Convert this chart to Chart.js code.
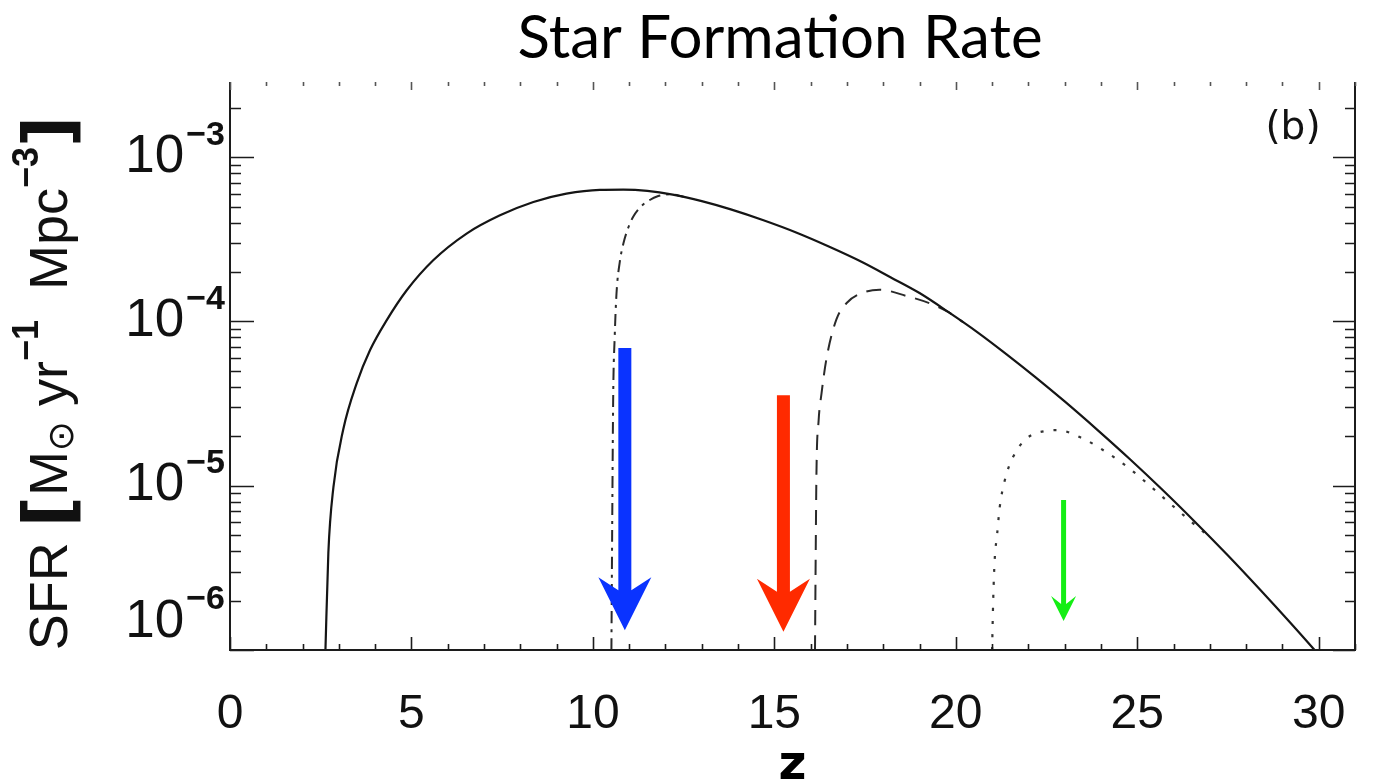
<!DOCTYPE html>
<html>
<head>
<meta charset="utf-8">
<script src="https://cdn.jsdelivr.net/npm/chart.js@4.4.1/dist/chart.umd.min.js"></script>
<style>
  html, body { margin: 0; padding: 0; background: #fff; }
</style>
</head>
<body>
<canvas id="sfrChart" width="1375" height="781"></canvas>
<script>
// SFR history (M_sun / yr / Mpc^3) against redshift, one total curve and three cut-off models
const solidZ   = [2.63, 2.71, 2.85, 3.12, 3.49, 3.86, 4.32, 4.87, 5.6, 6.52, 7.44, 8.36, 9.27, 10.19, 10.84, 11.5, 12.2, 13.0, 13.8, 14.7, 15.6, 16.5, 17.4, 18.2, 19.0, 19.8, 20.6, 21.4, 22.2, 23.0, 23.9, 24.8, 25.7, 26.6, 27.5, 28.4, 29.2, 29.85, 30.3];
const solidSFR = [1.0e-6, 3.9e-6, 9.8e-6, 2.2e-5, 4.2e-5, 6.7e-5, 1.02e-4, 1.55e-4, 2.36e-4, 3.43e-4, 4.43e-4, 5.34e-4, 6.0e-4, 6.33e-4, 6.35e-4, 6.24e-4, 5.92e-4, 5.4e-4, 4.81e-4, 4.13e-4, 3.48e-4, 2.86e-4, 2.31e-4, 1.86e-4, 1.49e-4, 1.14e-4, 8.59e-5, 6.31e-5, 4.57e-5, 3.26e-5, 2.19e-5, 1.45e-5, 9.42e-6, 6.0e-6, 3.76e-6, 2.31e-6, 1.48e-6, 1.02e-6, 7.8e-7];

const dashDotZ   = [10.51, 10.53, 10.56, 10.60, 10.65, 10.74, 10.84, 10.97, 11.11, 11.3, 11.48, 11.8, 12.12, 12.5];
const dashDotSFR = [1.0e-6, 5.0e-6, 3.6e-5, 8.0e-5, 1.48e-4, 2.3e-4, 2.98e-4, 3.7e-4, 4.34e-4, 4.95e-4, 5.34e-4, 5.8e-4, 5.95e-4, 5.75e-4];

const dashedZ   = [16.12, 16.14, 16.16, 16.22, 16.3, 16.44, 16.71, 17.0, 17.45, 17.9, 18.64, 19.28, 19.8, 20.2];
const dashedSFR = [1.0e-6, 4.0e-6, 1.2e-5, 2.5e-5, 3.65e-5, 6.0e-5, 1.03e-4, 1.3e-4, 1.5e-4, 1.56e-4, 1.43e-4, 1.29e-4, 1.14e-4, 9.9e-5];

const dottedZ   = [21.0, 21.03, 21.07, 21.14, 21.21, 21.35, 21.58, 21.95, 22.5, 22.8, 23.5, 24.15, 24.79, 25.44, 25.99, 26.54, 27.0];
const dottedSFR = [1.0e-6, 2.0e-6, 3.5e-6, 5.1e-6, 7.4e-6, 1.08e-5, 1.5e-5, 1.94e-5, 2.16e-5, 2.18e-5, 1.94e-5, 1.6e-5, 1.27e-5, 9.6e-6, 7.5e-6, 5.9e-6, 4.86e-6];

// arrows: redshift, tail value, tip value
const arrowZ    = [10.88, 15.25, 22.97];
const arrowTail = [6.9e-5, 3.56e-5, 8.2e-6];
const arrowTip  = [1.32e-6, 1.29e-6, 1.5e-6];

const xTickLabels = [0, 5, 10, 15, 20, 25, 30];
const yTickExponents = [-3, -4, -5, -6];

const arrowStyle = [
  { color: '#0a33ff', shaft: 13, head: 53, len: 53, notch: 13 },
  { color: '#ff2a00', shaft: 13, head: 53, len: 53, notch: 13 },
  { color: '#14ee14', shaft: 5, head: 25, len: 25, notch: 8 }
];

const toPoints = (zs, vals) => zs.map((z, i) => ({ x: z, y: vals[i] }));

const ink = '#1c1c1c';
const numFont = 'Liberation Sans';

// frame with inward ticks, no top border
const axesFrame = {
  id: 'axesFrame',
  afterDraw(chart) {
    const { ctx, chartArea: a, scales: { x, y } } = chart;
    ctx.save();
    ctx.strokeStyle = ink;
    ctx.lineWidth = 2;
    ctx.beginPath();
    ctx.moveTo(a.left, a.top);
    ctx.lineTo(a.left, a.bottom);
    ctx.lineTo(a.right, a.bottom);
    ctx.lineTo(a.right, a.top);
    ctx.stroke();

    ctx.lineWidth = 1.6;
    for (let z = 0; z <= 31; z++) {
      const px = Math.round(x.getPixelForValue(z)) + 0.5;
      const major = z % 5 === 0;
      ctx.strokeStyle = ink;
      ctx.beginPath();
      ctx.moveTo(px, a.bottom);
      ctx.lineTo(px, a.bottom - (major ? 13 : 6));
      ctx.stroke();
      ctx.strokeStyle = '#555';
      ctx.beginPath();
      ctx.moveTo(px, a.top);
      ctx.lineTo(px, a.top + (major ? 8 : 4));
      ctx.stroke();
    }
    ctx.strokeStyle = ink;
    for (let e = -6; e <= -3; e++) {
      for (let m = 1; m <= 9; m++) {
        const v = m * Math.pow(10, e);
        if (v < y.min || v > y.max) continue;
        const py = Math.round(y.getPixelForValue(v)) + 0.5;
        const major = m === 1;
        ctx.beginPath();
        ctx.moveTo(a.left, py);
        ctx.lineTo(a.left + (major ? 24 : 11), py);
        ctx.moveTo(a.right, py);
        ctx.lineTo(a.right - (major ? 22 : 10), py);
        ctx.stroke();
      }
    }

    // decade labels 10^n
    ctx.fillStyle = '#111';
    ctx.textBaseline = 'middle';
    yTickExponents.forEach(e => {
      let py = y.getPixelForValue(Math.pow(10, e));
      py = Math.min(py, a.bottom - 28);
      const sup = '\u2212' + Math.abs(e);
      ctx.font = 'bold 34px ' + numFont;
      const supW = ctx.measureText(sup).width;
      ctx.textAlign = 'left';
      ctx.fillText(sup, a.left - 5 - supW, py - 22);
      ctx.font = '53px ' + numFont;
      ctx.textAlign = 'right';
      ctx.fillText('10', a.left - 7 - supW, py);
    });

    // panel tag
    ctx.font = '39px DejaVu Sans';
    ctx.textAlign = 'center';
    ctx.fillText('(b)', a.right - 62, a.top + 47);
    ctx.restore();
  }
};

// rotated y-axis title with sub/superscripts
const yTitle = {
  id: 'yTitle',
  afterDraw(chart) {
    const ctx = chart.ctx;
    const runs = [
      { t: 'SFR ', f: '54px ' + numFont, dy: 0 },
      { t: '[', f: 'bold 68px DejaVu Sans', dy: 2 },
      { t: 'M', f: '54px ' + numFont, dy: 0 },
      { t: '\u2299', f: '36px DejaVu Sans', dy: 12 },
      { t: ' yr', f: '54px ' + numFont, dy: 0 },
      { t: '\u22121', f: 'bold 36px ' + numFont, dy: -24 },
      { t: '  Mpc', f: '54px ' + numFont, dy: 0 },
      { t: '\u22123', f: 'bold 36px ' + numFont, dy: -24 },
      { t: ']', f: 'bold 68px DejaVu Sans', dy: 2 }
    ];
    ctx.save();
    let total = 0;
    runs.forEach(r => { ctx.font = r.f; r.w = ctx.measureText(r.t).width; total += r.w; });
    ctx.translate(52, 383);
    ctx.rotate(-Math.PI / 2);
    ctx.fillStyle = '#111';
    ctx.textBaseline = 'middle';
    ctx.textAlign = 'left';
    let cx = -total / 2;
    runs.forEach(r => {
      ctx.font = r.f;
      ctx.fillText(r.t, cx, r.dy);
      cx += r.w;
    });
    ctx.restore();
  }
};

// downward arrows marking the cut-off redshifts
const arrows = {
  id: 'arrows',
  afterDatasetsDraw(chart) {
    const { ctx, scales: { x, y } } = chart;
    ctx.save();
    arrowZ.forEach((z, i) => {
      const s = arrowStyle[i];
      const cx = x.getPixelForValue(z);
      const top = y.getPixelForValue(arrowTail[i]);
      const tip = y.getPixelForValue(arrowTip[i]);
      const back = tip - s.len;
      ctx.fillStyle = s.color;
      ctx.beginPath();
      ctx.moveTo(cx - s.shaft / 2, top);
      ctx.lineTo(cx - s.shaft / 2, back + s.notch);
      ctx.lineTo(cx - s.head / 2, back);
      ctx.lineTo(cx, tip);
      ctx.lineTo(cx + s.head / 2, back);
      ctx.lineTo(cx + s.shaft / 2, back + s.notch);
      ctx.lineTo(cx + s.shaft / 2, top);
      ctx.closePath();
      ctx.fill();
    });
    ctx.restore();
  }
};

const lineSet = (data, color, dash, width) => ({
  data,
  borderColor: color,
  borderWidth: width,
  borderDash: dash,
  pointRadius: 0,
  cubicInterpolationMode: 'monotone',
  fill: false
});

new Chart(document.getElementById('sfrChart'), {
  type: 'line',
  data: {
    datasets: [
      lineSet(toPoints(solidZ, solidSFR), '#151515', [], 2.2),
      lineSet(toPoints(dashDotZ, dashDotSFR), '#2a2a2a', [12, 6, 3, 6], 2),
      lineSet(toPoints(dashedZ, dashedSFR), '#2a2a2a', [15, 10], 2),
      lineSet(toPoints(dottedZ, dottedSFR), '#333', [3, 10], 2.2)
    ]
  },
  options: {
    responsive: false,
    animation: false,
    devicePixelRatio: 1,
    layout: { padding: { left: 205, right: 20, top: 0, bottom: 0 } },
    plugins: {
      legend: { display: false },
      tooltip: { enabled: false },
      title: {
        display: true,
        text: 'Star Formation Rate',
        color: '#000',
        font: { family: 'Lato', size: 60, weight: 'normal', lineHeight: 1.2 },
        padding: { top: 3, bottom: 7 }
      }
    },
    scales: {
      x: {
        type: 'linear',
        min: 0,
        max: 31,
        afterBuildTicks: s => { s.ticks = xTickLabels.map(v => ({ value: v })); },
        afterFit: s => {
          s.height = 131;
          // labels stay inside the frame width, no side padding needed
          s.paddingLeft = 0;
          s.paddingRight = 0;
        },
        grid: { display: false, drawTicks: false },
        border: { display: false },
        ticks: {
          color: '#111',
          font: { family: numFont, size: 48 },
          padding: 36,
          maxRotation: 0,
          autoSkip: false
        },
        title: {
          display: true,
          text: 'z',
          color: '#000',
          font: { family: 'DejaVu Sans', size: 48, weight: 'bold' },
          padding: { top: 0, bottom: -14 }
        }
      },
      y: {
        type: 'logarithmic',
        min: 1e-6,
        max: 2.87e-3,
        afterFit: s => { s.width = 25; },
        grid: { display: false },
        border: { display: false },
        ticks: { display: false }
      }
    }
  },
  plugins: [arrows, axesFrame, yTitle]
});
</script>
</body>
</html>
